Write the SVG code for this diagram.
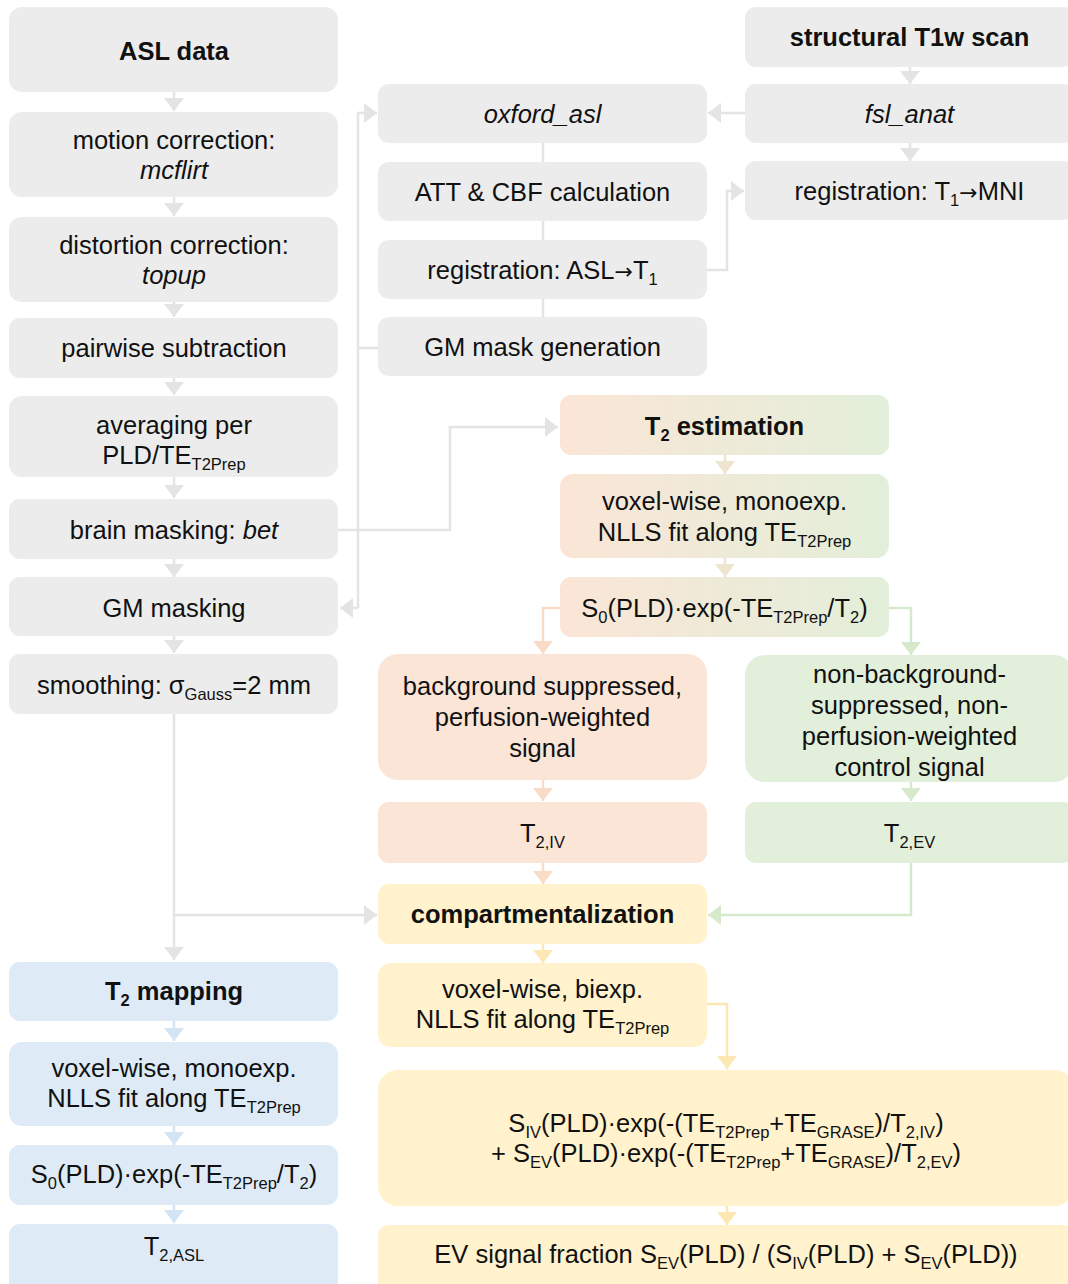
<svg xmlns="http://www.w3.org/2000/svg" width="1068" height="1284" viewBox="0 0 1068 1284">
<style>
text{font-family:"Liberation Sans",Arial,Helvetica,sans-serif;font-size:25.5px;fill:#111;text-anchor:middle}
.b{font-weight:bold}
.i{font-style:italic}
.s{font-size:16.5px}
.ar{font-family:"DejaVu Sans",sans-serif;font-size:22px}
.gray{fill:#ececec}
.peach{fill:#fbe5d6}
.green{fill:#e2efda}
.yel{fill:#fff2cc}
.blue{fill:#deebf7}
.grad{fill:url(#pg)}
.c{fill:none;stroke-width:2.5}
.cg{stroke:#e4e4e4}
.cp{stroke:#f9dcc8}
.cgr{stroke:#d7e9cc}
.cy{stroke:#fde8b4}
.cb{stroke:#d3e4f5}
.cm{stroke:#efe5cf}
</style>
<defs>
<linearGradient id="pg" x1="0" y1="0" x2="1" y2="0">
<stop offset="0" stop-color="#fbe5d6"/>
<stop offset="1" stop-color="#e2efda"/>
</linearGradient>
<marker id="ag" markerUnits="userSpaceOnUse" markerWidth="13" markerHeight="20" refX="13" refY="10" orient="auto"><path d="M0,0 L13,10 L0,20 z" fill="#e4e4e4"/></marker>
<marker id="ap" markerUnits="userSpaceOnUse" markerWidth="13" markerHeight="20" refX="13" refY="10" orient="auto"><path d="M0,0 L13,10 L0,20 z" fill="#f9dcc8"/></marker>
<marker id="agr" markerUnits="userSpaceOnUse" markerWidth="13" markerHeight="20" refX="13" refY="10" orient="auto"><path d="M0,0 L13,10 L0,20 z" fill="#d7e9cc"/></marker>
<marker id="ay" markerUnits="userSpaceOnUse" markerWidth="13" markerHeight="20" refX="13" refY="10" orient="auto"><path d="M0,0 L13,10 L0,20 z" fill="#fde8b4"/></marker>
<marker id="ab" markerUnits="userSpaceOnUse" markerWidth="13" markerHeight="20" refX="13" refY="10" orient="auto"><path d="M0,0 L13,10 L0,20 z" fill="#d3e4f5"/></marker>
<marker id="am" markerUnits="userSpaceOnUse" markerWidth="13" markerHeight="20" refX="13" refY="10" orient="auto"><path d="M0,0 L13,10 L0,20 z" fill="#efe5cf"/></marker>
</defs>
<rect width="1068" height="1284" fill="#fff"/>

<g id="connectors">
<path class="c cg" marker-end="url(#ag)" d="M174,92 L174,111"/>
<path class="c cg" marker-end="url(#ag)" d="M174,197 L174,216"/>
<path class="c cg" marker-end="url(#ag)" d="M174,302 L174,317"/>
<path class="c cg" marker-end="url(#ag)" d="M174,378 L174,395"/>
<path class="c cg" marker-end="url(#ag)" d="M174,477 L174,498"/>
<path class="c cg" marker-end="url(#ag)" d="M174,559 L174,577"/>
<path class="c cg" marker-end="url(#ag)" d="M174,636 L174,653"/>
<path class="c cg" marker-end="url(#ag)" d="M174,714 L174,960"/>
<path class="c cg" marker-end="url(#ag)" d="M174,915 L377,915"/>
<path class="c cg" marker-end="url(#ag)" d="M358,608 L358,113 L377,113"/>
<path class="c cg" marker-end="url(#ag)" d="M358,608 L340,608"/>
<path class="c cg" d="M378,348 L358,348"/>
<path class="c cg" marker-end="url(#ag)" d="M338,530 L450,530 L450,427 L558,427"/>
<path class="c cg" d="M543,143 L543,162 M543,221 L543,240 M543,299 L543,317"/>
<path class="c cg" marker-end="url(#ag)" d="M707,270 L727,270 L727,191 L744,191"/>
<path class="c cg" marker-end="url(#ag)" d="M910,67 L910,84"/>
<path class="c cg" marker-end="url(#ag)" d="M910,143 L910,161"/>
<path class="c cg" marker-end="url(#ag)" d="M745,113 L708,113"/>
<path class="c cm" marker-end="url(#am)" d="M725,455 L725,474"/>
<path class="c cm" marker-end="url(#am)" d="M725,558 L725,577"/>
<path class="c cp" marker-end="url(#ap)" d="M560,608 L543,608 L543,654"/>
<path class="c cp" marker-end="url(#ap)" d="M543,780 L543,801"/>
<path class="c cp" marker-end="url(#ap)" d="M543,863 L543,884"/>
<path class="c cgr" marker-end="url(#agr)" d="M889,608 L911,608 L911,655"/>
<path class="c cgr" marker-end="url(#agr)" d="M911,782 L911,801"/>
<path class="c cgr" marker-end="url(#agr)" d="M911,863 L911,915 L708,915"/>
<path class="c cy" marker-end="url(#ay)" d="M543,944 L543,963"/>
<path class="c cy" marker-end="url(#ay)" d="M707,1004 L727,1004 L727,1069"/>
<path class="c cy" marker-end="url(#ay)" d="M727,1206 L727,1225"/>
<path class="c cb" marker-end="url(#ab)" d="M174,1021 L174,1041"/>
<path class="c cb" marker-end="url(#ab)" d="M174,1126 L174,1145"/>
<path class="c cb" marker-end="url(#ab)" d="M174,1205 L174,1223"/>
</g>

<g id="asl-data"><rect class="gray" x="9" y="7" width="329" height="85" rx="13"/><text class="b" x="174" y="60">ASL data</text></g>
<g id="motion-correction"><rect class="gray" x="9" y="112" width="329" height="85" rx="13"/><text x="174" y="149">motion correction:</text><text class="i" x="174" y="179">mcflirt</text></g>
<g id="distortion-correction"><rect class="gray" x="9" y="217" width="329" height="85" rx="13"/><text x="174" y="254">distortion correction:</text><text class="i" x="174" y="284">topup</text></g>
<g id="pairwise-subtraction"><rect class="gray" x="9" y="318" width="329" height="60" rx="11"/><text x="174" y="357">pairwise subtraction</text></g>
<g id="averaging"><rect class="gray" x="9" y="396" width="329" height="81" rx="13"/><text x="174" y="434">averaging per</text><text x="174" y="464">PLD/TE<tspan class="s" dy="6">T2Prep</tspan></text></g>
<g id="brain-masking"><rect class="gray" x="9" y="499" width="329" height="60" rx="11"/><text x="174" y="539">brain masking: <tspan class="i">bet</tspan></text></g>
<g id="gm-masking"><rect class="gray" x="9" y="577" width="329" height="59" rx="11"/><text x="174" y="617">GM masking</text></g>
<g id="smoothing"><rect class="gray" x="9" y="654" width="329" height="60" rx="11"/><text x="174" y="694">smoothing: σ<tspan class="s" dy="6">Gauss</tspan><tspan dy="-6">=2 mm</tspan></text></g>

<g id="t2-mapping"><rect class="blue" x="9" y="962" width="329" height="59" rx="11"/><text class="b" x="174" y="1000">T<tspan class="s" dy="6">2</tspan><tspan dy="-6"> mapping</tspan></text></g>
<g id="blue-monoexp"><rect class="blue" x="9" y="1042" width="329" height="84" rx="13"/><text x="174" y="1077">voxel-wise, monoexp.</text><text x="174" y="1107">NLLS fit along TE<tspan class="s" dy="6">T2Prep</tspan></text></g>
<g id="blue-s0"><rect class="blue" x="9" y="1145" width="329" height="60" rx="11"/><text x="174" y="1183">S<tspan class="s" dy="6">0</tspan><tspan dy="-6">(PLD)·exp(-TE</tspan><tspan class="s" dy="6">T2Prep</tspan><tspan dy="-6">/T</tspan><tspan class="s" dy="6">2</tspan><tspan dy="-6">)</tspan></text></g>
<g id="t2-asl"><rect class="blue" x="9" y="1224" width="329" height="75" rx="11"/><text x="174" y="1255">T<tspan class="s" dy="6">2,ASL</tspan></text></g>

<g id="oxford-asl"><rect class="gray" x="378" y="84" width="329" height="59" rx="11"/><text class="i" x="542.5" y="123">oxford_asl</text></g>
<g id="att-cbf"><rect class="gray" x="378" y="162" width="329" height="59" rx="11"/><text x="542.5" y="201">ATT &amp; CBF calculation</text></g>
<g id="reg-asl-t1"><rect class="gray" x="378" y="240" width="329" height="59" rx="11"/><text x="542.5" y="279">registration: ASL<tspan class="ar">→</tspan>T<tspan class="s" dy="6">1</tspan></text></g>
<g id="gm-mask-gen"><rect class="gray" x="378" y="317" width="329" height="59" rx="11"/><text x="542.5" y="356">GM mask generation</text></g>

<g id="structural-t1w"><rect class="gray" x="745" y="7" width="329" height="60" rx="11"/><text class="b" x="909.5" y="46">structural T1w scan</text></g>
<g id="fsl-anat"><rect class="gray" x="745" y="84" width="329" height="59" rx="11"/><text class="i" x="909.5" y="123">fsl_anat</text></g>
<g id="reg-t1-mni"><rect class="gray" x="745" y="161" width="329" height="59" rx="11"/><text x="909.5" y="200">registration: T<tspan class="s" dy="6">1</tspan><tspan class="ar" dy="-6">→</tspan>MNI</text></g>

<g id="t2-estimation"><rect class="grad" x="560" y="395" width="329" height="60" rx="11"/><text class="b" x="724.5" y="435">T<tspan class="s" dy="6">2</tspan><tspan dy="-6"> estimation</tspan></text></g>
<g id="est-monoexp"><rect class="grad" x="560" y="474" width="329" height="84" rx="13"/><text x="724.5" y="510">voxel-wise, monoexp.</text><text x="724.5" y="541">NLLS fit along TE<tspan class="s" dy="6">T2Prep</tspan></text></g>
<g id="est-s0"><rect class="grad" x="560" y="577" width="329" height="60" rx="11"/><text x="724.5" y="617">S<tspan class="s" dy="6">0</tspan><tspan dy="-6">(PLD)·exp(-TE</tspan><tspan class="s" dy="6">T2Prep</tspan><tspan dy="-6">/T</tspan><tspan class="s" dy="6">2</tspan><tspan dy="-6">)</tspan></text></g>

<g id="bg-suppressed"><rect class="peach" x="378" y="654" width="329" height="126" rx="20"/><text x="542.5" y="695">background suppressed,</text><text x="542.5" y="726">perfusion-weighted</text><text x="542.5" y="757">signal</text></g>
<g id="non-bg"><rect class="green" x="745" y="655" width="329" height="127" rx="20"/><text x="909.5" y="683">non-background-</text><text x="909.5" y="714">suppressed, non-</text><text x="909.5" y="745">perfusion-weighted</text><text x="909.5" y="776">control signal</text></g>
<g id="t2-iv"><rect class="peach" x="378" y="802" width="329" height="61" rx="11"/><text x="542.5" y="842">T<tspan class="s" dy="6">2,IV</tspan></text></g>
<g id="t2-ev"><rect class="green" x="745" y="802" width="329" height="61" rx="11"/><text x="909.5" y="842">T<tspan class="s" dy="6">2,EV</tspan></text></g>

<g id="compartmentalization"><rect class="yel" x="378" y="884" width="329" height="60" rx="11"/><text class="b" x="542.5" y="923">compartmentalization</text></g>
<g id="biexp"><rect class="yel" x="378" y="963" width="329" height="84" rx="13"/><text x="542.5" y="998">voxel-wise, biexp.</text><text x="542.5" y="1028">NLLS fit along TE<tspan class="s" dy="6">T2Prep</tspan></text></g>
<g id="biexp-formula"><rect class="yel" x="378" y="1070" width="696" height="136" rx="20"/>
<text x="726" y="1132">S<tspan class="s" dy="6">IV</tspan><tspan dy="-6">(PLD)·exp(-(TE</tspan><tspan class="s" dy="6">T2Prep</tspan><tspan dy="-6">+TE</tspan><tspan class="s" dy="6">GRASE</tspan><tspan dy="-6">)/T</tspan><tspan class="s" dy="6">2,IV</tspan><tspan dy="-6">)</tspan></text>
<text x="726" y="1162">+ S<tspan class="s" dy="6">EV</tspan><tspan dy="-6">(PLD)·exp(-(TE</tspan><tspan class="s" dy="6">T2Prep</tspan><tspan dy="-6">+TE</tspan><tspan class="s" dy="6">GRASE</tspan><tspan dy="-6">)/T</tspan><tspan class="s" dy="6">2,EV</tspan><tspan dy="-6">)</tspan></text></g>
<g id="ev-fraction"><rect class="yel" x="378" y="1225" width="696" height="75" rx="11"/><text x="726" y="1263">EV signal fraction S<tspan class="s" dy="6">EV</tspan><tspan dy="-6">(PLD) / (S</tspan><tspan class="s" dy="6">IV</tspan><tspan dy="-6">(PLD) + S</tspan><tspan class="s" dy="6">EV</tspan><tspan dy="-6">(PLD))</tspan></text></g>
</svg>
